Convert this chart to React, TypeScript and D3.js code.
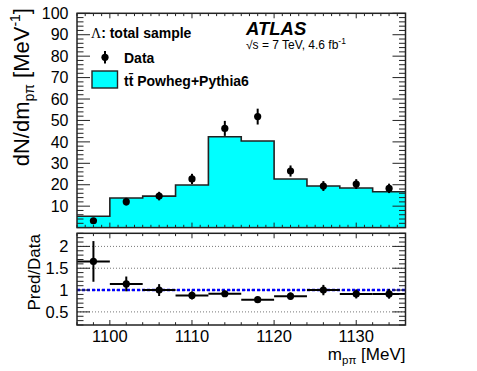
import React from "react";
import * as d3 from "d3";

const binEdges = [1096, 1100, 1104, 1108, 1112, 1116, 1120, 1124, 1128, 1132, 1136];
const mcValues = [5.3, 13.8, 14.7, 19.9, 42.4, 40.4, 22.7, 19.4, 18.5, 16.7];
const dataValues = [3.2, 12.1, 14.7, 22.7, 46.3, 51.8, 26.4, 19.4, 20.3, 18.3];
const dataErrors = [0.9, 1.8, 2.0, 2.4, 3.5, 3.7, 2.6, 2.3, 2.3, 2.2];
const xTicks = [1100, 1110, 1120, 1130];
const yTicksTop = [10, 20, 30, 40, 50, 60, 70, 80, 90, 100];
const yTicksRatio = [0.5, 1, 1.5, 2];

const FONT = "'Liberation Sans', Arial, Helvetica, sans-serif";
const W = 477, H = 371;
const L = 77, R = 405.5;
const T1 = 13.3, B1 = 227.6;
const T2 = 233.3, B2 = 325;

export default function App() {
  const x = d3.scaleLinear().domain([1096, 1136]).range([L, R]);
  const y1 = d3.scaleLinear().domain([0, 100]).range([B1, T1]);
  const y2 = d3.scaleLinear().domain([0.2, 2.3]).range([B2, T2]);

  const centers = binEdges.slice(0, -1).map((e, i) => (e + binEdges[i + 1]) / 2);
  const stepData = binEdges.map((e, i) => ({ x: e, v: mcValues[Math.min(i, mcValues.length - 1)] }));
  const area = d3.area<{ x: number; v: number }>().x(d => x(d.x)).y0(y1(0)).y1(d => y1(d.v)).curve(d3.curveStepAfter);
  const line = d3.line<{ x: number; v: number }>().x(d => x(d.x)).y(d => y1(d.v)).curve(d3.curveStepAfter);

  const ratio = mcValues.map((m, i) => m / dataValues[i]);
  const ratioErr = ratio.map((r, i) => r * dataErrors[i] / dataValues[i]);

  const axisColor = "#222";
  const ticks: React.ReactNode[] = [];
  d3.range(1096, 1137, 1).forEach((v) => {
    const len = v % 10 === 0 ? 5 : 2.8;
    const px = x(v);
    ticks.push(<line key={"ux" + v} x1={px} x2={px} y1={B1} y2={B1 - len} stroke={axisColor} strokeWidth={1} />);
    ticks.push(<line key={"uxt" + v} x1={px} x2={px} y1={T1} y2={T1 + len} stroke={axisColor} strokeWidth={1} />);
  });
  d3.range(1096, 1137, 2).forEach((v) => {
    const len = v % 10 === 0 ? 5 : 2.8;
    const px = x(v);
    ticks.push(<line key={"lx" + v} x1={px} x2={px} y1={B2} y2={B2 - len} stroke={axisColor} strokeWidth={1} />);
    ticks.push(<line key={"lxt" + v} x1={px} x2={px} y1={T2} y2={T2 + len} stroke={axisColor} strokeWidth={1} />);
  });
  d3.range(0, 101, 2).forEach((v) => {
    const len = v % 10 === 0 ? 13 : 6.5;
    const py = y1(v);
    ticks.push(<line key={"uy" + v} x1={L} x2={L + len} y1={py} y2={py} stroke={axisColor} strokeWidth={1} />);
    ticks.push(<line key={"uyr" + v} x1={R} x2={R - len} y1={py} y2={py} stroke={axisColor} strokeWidth={1} />);
  });
  d3.range(2, 24, 1).forEach((k) => {
    const v = k / 10;
    const len = k % 5 === 0 ? 13 : 6.5;
    const py = y2(v);
    ticks.push(<line key={"ly" + k} x1={L} x2={L + len} y1={py} y2={py} stroke={axisColor} strokeWidth={1} />);
    ticks.push(<line key={"lyr" + k} x1={R} x2={R - len} y1={py} y2={py} stroke={axisColor} strokeWidth={1} />);
  });

  return (
    <svg width={W} height={H} style={{ position: "absolute", left: 0, top: 0, background: "#fff" }} fontFamily={FONT}>
      <rect x={0} y={0} width={W} height={H} fill="#fff" />
      <path d={area(stepData) || ""} fill="#00ffff" />
      <path d={line(stepData) || ""} fill="none" stroke="#222" strokeWidth={1.6} />
      {centers.map((c, i) => (
        <g key={"d" + i}>
          <line x1={x(c)} x2={x(c)} y1={y1(dataValues[i] - dataErrors[i])} y2={y1(dataValues[i] + dataErrors[i])} stroke="#000" strokeWidth={2} />
          <circle cx={x(c)} cy={y1(dataValues[i])} r={3.6} fill="#000" />
        </g>
      ))}
      {yTicksRatio.map((v) => (
        <line key={"g" + v} x1={L} x2={R} y1={y2(v)} y2={y2(v)} stroke="#777" strokeWidth={1} strokeDasharray="1,2" />
      ))}
      <line x1={L} x2={R} y1={y2(1)} y2={y2(1)} stroke="#0000ff" strokeWidth={2.5} strokeDasharray="3,2" />
      {centers.map((c, i) => (
        <g key={"r" + i}>
          <line x1={x(binEdges[i])} x2={x(binEdges[i + 1])} y1={y2(ratio[i])} y2={y2(ratio[i])} stroke="#000" strokeWidth={2} />
          <line x1={x(c)} x2={x(c)} y1={y2(ratio[i] - ratioErr[i])} y2={y2(ratio[i] + ratioErr[i])} stroke="#000" strokeWidth={2} />
          <circle cx={x(c)} cy={y2(ratio[i])} r={3.6} fill="#000" />
        </g>
      ))}
      {ticks}
      <rect x={L} y={T1} width={R - L} height={B1 - T1} fill="none" stroke="#222" strokeWidth={1.5} />
      <rect x={L} y={T2} width={R - L} height={B2 - T2} fill="none" stroke="#222" strokeWidth={1.5} />
      {yTicksTop.map((v) => (
        <text key={"tl" + v} x={68.5} y={y1(v) + 5.7} textAnchor="end" fontSize={16} fill="#000">{v}</text>
      ))}
      {yTicksRatio.map((v) => (
        <text key={"rl" + v} x={68.5} y={y2(v) + 5.9} textAnchor="end" fontSize={16.5} fill="#000">{v}</text>
      ))}
      {xTicks.map((v) => (
        <text key={"xl" + v} x={x(v)} y={342} textAnchor="middle" fontSize={16.5} fill="#000">{v}</text>
      ))}
      <text transform="translate(29,8) rotate(-90)" textAnchor="end" fontSize={22} fill="#000">
        dN/dm<tspan fontSize={14} dy={5}>pπ</tspan><tspan dy={-5}> [MeV</tspan><tspan fontSize={14} dy={-9}>-1</tspan><tspan dy={9}>]</tspan>
      </text>
      <text transform="translate(40,234) rotate(-90)" textAnchor="end" fontSize={17} fill="#000">Pred/Data</text>
      <text x={405.5} y={360} textAnchor="end" fontSize={17} fill="#000">
        m<tspan fontSize={11.5} dy={4}>pπ</tspan><tspan dy={-4}> [MeV]</tspan>
      </text>
      <text x={91} y={38} fontSize={14} fontWeight="bold" fill="#000">
        <tspan fontFamily="'Liberation Serif', 'DejaVu Serif', serif" fontWeight="normal">Λ</tspan>: total sample
      </text>
      <line x1={105} x2={105} y1={51} y2={63.5} stroke="#000" strokeWidth={2} />
      <circle cx={105} cy={57.3} r={3.6} fill="#000" />
      <text x={124} y={62.5} fontSize={14} fontWeight="bold" fill="#000">Data</text>
      <rect x={92} y={71} width={25.5} height={17} fill="#00ffff" stroke="#222" strokeWidth={1.4} />
      <text x={124} y={85.5} fontSize={14} fontWeight="bold" fill="#000">{"tt\u0304 Powheg+Pythia6"}</text>
      <text x={246} y={34.5} fontSize={18.5} fontWeight="bold" fontStyle="italic" fill="#000">ATLAS</text>
      <text x={246} y={48.5} fontSize={12} fill="#000">
        √s = 7 TeV, 4.6 fb<tspan fontSize={8.5} dy={-5}>-1</tspan>
      </text>
    </svg>
  );
}
